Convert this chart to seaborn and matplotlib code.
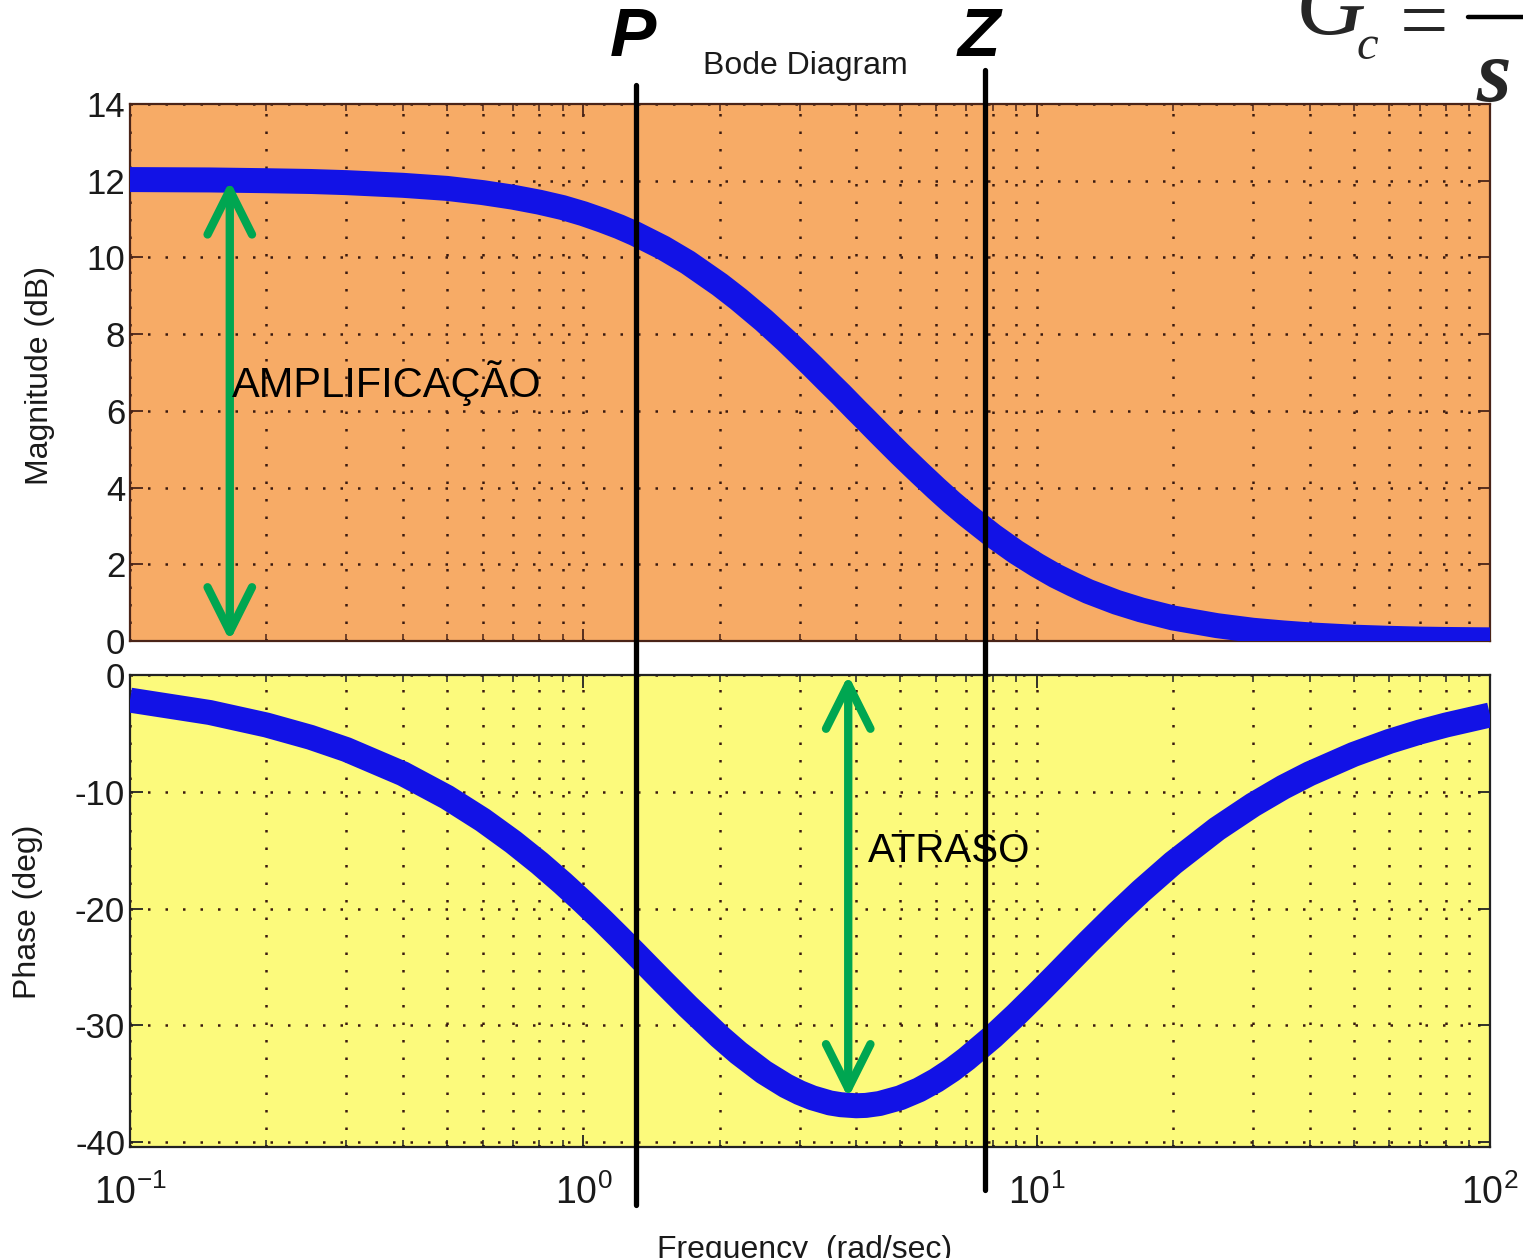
import matplotlib
matplotlib.use('Agg')
import matplotlib.pyplot as plt
import matplotlib.transforms as mtransforms
from matplotlib.lines import Line2D
import pandas as pd
import seaborn as sns

# values
freq = [0.1, 0.15, 0.2, 0.25, 0.3, 0.4, 0.5, 0.6, 0.7, 0.8, 0.9, 1, 1.1, 1.2, 1.3,
        1.5, 1.7, 2, 2.2, 2.5, 2.8, 3, 3.2, 3.5, 3.7, 4, 4.2, 4.5, 5, 5.5, 6, 6.5,
        7, 8, 9, 10, 11, 12, 13, 15, 17, 20, 25, 30, 35, 40, 50, 60, 70, 80, 100]
mag_db = [12.03, 12.02, 12.00, 11.98, 11.95, 11.88, 11.80, 11.69, 11.57, 11.44,
          11.30, 11.14, 10.97, 10.80, 10.62, 10.25, 9.87, 9.29, 8.91, 8.36, 7.83,
          7.49, 7.17, 6.71, 6.43, 6.02, 5.77, 5.41, 4.87, 4.40, 3.98, 3.61, 3.29,
          2.75, 2.32, 1.98, 1.70, 1.48, 1.29, 1.01, 0.81, 0.60, 0.40, 0.28, 0.21,
          0.16, 0.10, 0.07, 0.05, 0.04, 0.03]
phase_deg = [-2.15, -3.21, -4.28, -5.33, -6.38, -8.45, -10.46, -12.41, -14.29,
             -16.09, -17.81, -19.44, -20.98, -22.43, -23.79, -26.25, -28.36,
             -30.96, -32.35, -33.99, -35.17, -35.75, -36.19, -36.63, -36.78,
             -36.87, -36.84, -36.68, -36.19, -35.51, -34.70, -33.81, -32.86,
             -30.96, -29.10, -27.35, -25.73, -24.23, -22.86, -20.48, -18.49,
             -16.09, -13.17, -11.12, -9.60, -8.45, -6.80, -5.68, -4.88, -4.28,
             -3.42]

pole_freq = 1.31
zero_freq = 7.69
gain_arrow = (0.166, 12.0, 0.0)
lag_arrow = (3.84, 0.0, -36.2)

data = pd.DataFrame({'Frequency': freq, 'Magnitude': mag_db, 'Phase': phase_deg})

sns.set_style('ticks')
plt.rcParams['font.family'] = ['Liberation Sans', 'DejaVu Sans']
plt.rcParams['axes.unicode_minus'] = False
plt.rcParams['mathtext.default'] = 'regular'

W, H = 1523, 1258
fig = plt.figure(figsize=(W / 100, H / 100), dpi=100, facecolor='white')

ax1 = fig.add_axes([130 / W, 1 - 641 / H, 1360 / W, 537 / H])
ax2 = fig.add_axes([130 / W, 1 - 1147 / H, 1360 / W, 472 / H])

blue = '#1212E6'
green = '#00A651'
ink = '#1a1a1a'

sns.lineplot(data=data, x='Frequency', y='Magnitude', ax=ax1, color=blue,
             linewidth=18, solid_capstyle='butt', solid_joinstyle='round', zorder=3)
sns.lineplot(data=data, x='Frequency', y='Phase', ax=ax2, color=blue,
             linewidth=18, solid_capstyle='butt', solid_joinstyle='round', zorder=3)

for ax, bg, edge in [(ax1, '#F7AB66', '#4a2418'), (ax2, '#FCFA7C', '#222222')]:
    ax.set_xscale('log')
    ax.set_xlim(0.1, 100)
    ax.set_facecolor(bg)
    ax.grid(True, which='both', axis='x', linestyle=(0, (1, 6)), linewidth=1.8, color='#3a1a10')
    ax.grid(True, which='major', axis='y', linestyle=(0, (1, 6)), linewidth=1.8, color='#3a1a10')
    ax.tick_params(which='both', direction='in', top=True, right=True, colors=edge,
                   labelcolor=ink, labelsize=25)
    ax.tick_params(which='major', length=9, width=1.3)
    ax.tick_params(which='minor', length=5, width=1.1)
    for sp in ax.spines.values():
        sp.set_color(edge)
        sp.set_linewidth(1.6)
    ax.set_xlabel('')

ax1.set_ylim(0, 14)
ax1.set_yticks(range(0, 15, 2))
ax1.tick_params(axis='x', which='both', labelbottom=False)
ax1.set_ylabel('Magnitude (dB)', fontsize=23, color=ink)
ax1.yaxis.set_label_coords(-0.066, 0.495)
ax1.yaxis.label.set_va('center')

ax2.set_ylim(-40.4, 0)
ax2.set_yticks(range(-40, 1, 10))
ax2.tick_params(axis='x', which='major', pad=20, labelsize=27)
ax2.set_ylabel('Phase (deg)', fontsize=23, color=ink)
ax2.yaxis.set_label_coords(-0.075, 0.498)
ax2.yaxis.label.set_va('center')

fig.text(805 / W, 1 - 66 / H, 'Bode Diagram', ha='center', va='center',
         fontsize=23, color=ink)
fig.text(805 / W, 1 - 1250 / H, 'Frequency  (rad/sec)', ha='center', va='center',
         fontsize=23, color=ink)

# pole / zero markers spanning both panels
trans = mtransforms.blended_transform_factory(ax1.transData, fig.transFigure)
for f, y0, y1 in [(pole_freq, 85, 1205), (zero_freq, 70, 1190)]:
    fig.add_artist(Line2D([f, f], [1 - y0 / H, 1 - y1 / H], transform=trans,
                          color='black', linewidth=3.8, zorder=10))

fig.text(633 / W, 1 - 38 / H, 'P', ha='center', va='center', fontsize=50,
         fontweight='bold', fontstyle='italic', color='black')
fig.text(979 / W, 1 - 38 / H, 'Z', ha='center', va='center', fontsize=50,
         fontweight='bold', fontstyle='italic', color='black')

arrow_style = dict(arrowstyle='<->, head_length=1.6, head_width=0.8', color=green,
                   linewidth=6, mutation_scale=20, shrinkA=0, shrinkB=0)
ax1.annotate('', xy=(gain_arrow[0], gain_arrow[2]), xytext=(gain_arrow[0], gain_arrow[1]),
             arrowprops=arrow_style, zorder=6, annotation_clip=False)
ax2.annotate('', xy=(lag_arrow[0], lag_arrow[2]), xytext=(lag_arrow[0], lag_arrow[1]),
             arrowprops=arrow_style, zorder=6, annotation_clip=False)

ax1.text(0.168, 6.73, 'AMPLIFICAÇÃO', ha='left', va='center', fontsize=30,
         color='black', zorder=7)
ax2.text(4.25, -15.1, 'ATRASO', ha='left', va='center', fontsize=29,
         color='black', zorder=7)

# compensator formula, cut at the top edge as in the original slide
serif = ['Liberation Serif', 'DejaVu Serif']
fig.text(1296 / W, 1 - 34 / H, 'G', ha='left', va='baseline', fontsize=70,
         fontstyle='italic', family=serif)
fig.text(1357 / W, 1 - 59 / H, 'c', ha='left', va='baseline', fontsize=35,
         fontstyle='italic', family=serif)
fig.text(1400 / W, 1 - 49 / H, '=', ha='left', va='baseline', fontsize=62, family=serif)
fig.add_artist(Line2D([1468 / W, 1.0], [1 - 17 / H, 1 - 17 / H], transform=fig.transFigure,
                      color='black', linewidth=3.2))
fig.text(1476 / W, 1 - 101 / H, 's', ha='left', va='baseline', fontsize=64,
         fontstyle='italic', fontweight='bold', family=serif)

fig.savefig('out.png', dpi=100, facecolor='white')
